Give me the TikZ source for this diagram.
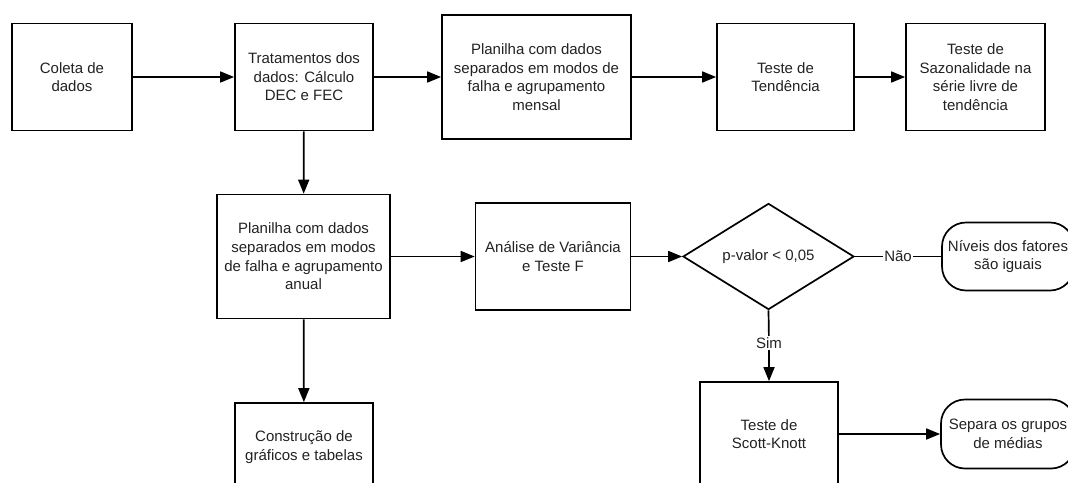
\documentclass[tikz,border=0pt]{standalone}
\usepackage{fontspec}
\setmainfont{Liberation Sans}
\usetikzlibrary{arrows.meta,shapes.geometric}
\definecolor{ink}{HTML}{222222}
\tikzset{
  base/.style={draw=black, line width=1.7pt, text=ink, align=center,
    font=\fontsize{15}{18.6}\selectfont, inner sep=2pt},
  procbox/.style={base, rectangle},
  endbox/.style={base, rectangle, rounded corners=24pt},
  choice/.style={base, diamond, inner sep=0pt},
  flow/.style={line width=1.7pt, -{Triangle[length=14pt,width=11pt]}},
  plain/.style={line width=1.7pt},
  tag/.style={fill=white, text=ink, inner sep=1.5pt, font=\fontsize{15}{18}\selectfont}
}
\begin{document}
\begin{tikzpicture}[x=1pt,y=-1pt]
\useasboundingbox (0,0) rectangle (1068,482);
\clip (0,0) rectangle (1068,482);

% top row
\node[procbox, minimum width=120pt, minimum height=107pt] (coleta) at (72,77) {Coleta de\\dados};
\node[procbox, minimum width=138pt, minimum height=107pt] (trat) at (304,77) {Tratamentos dos\\dados: Cálculo\\DEC e FEC};
\node[procbox, minimum width=189pt, minimum height=124pt] (mensal) at (536.5,77) {Planilha com dados\\separados em modos de\\falha e agrupamento\\mensal};
\node[procbox, minimum width=137pt, minimum height=107pt] (tend) at (785.5,77) {Teste de\\Tendência};
\node[procbox, minimum width=139pt, minimum height=107pt] (saz) at (975.5,77) {Teste de\\Sazonalidade na\\série livre de\\tendência};

% middle row
\node[procbox, minimum width=173pt, minimum height=124pt] (anual) at (303.5,256.5) {Planilha com dados\\separados em modos\\de falha e agrupamento\\anual};
\node[procbox, minimum width=155pt, minimum height=107pt] (anova) at (553,256.5) {Análise de Variância\\e Teste F};
\node[choice, minimum width=171pt, minimum height=103pt] (pval) at (768.5,256.5) {p-valor < 0,05};
\node[endbox, minimum width=132pt, minimum height=68pt] (niveis) at (1008,256.5) {Níveis dos fatores\\são iguais};

% bottom row
\node[procbox, minimum width=138pt, minimum height=88pt] (constr) at (304,447) {Construção de\\gráficos e tabelas};
\node[procbox, minimum width=138pt, minimum height=104pt] (scott) at (769,434) {Teste de\\Scott-Knott};
\node[endbox, minimum width=134pt, minimum height=69pt] (separa) at (1008,434) {Separa os grupos\\de médias};

\coordinate (simtag) at (769,343);

% connectors
\draw[flow] (coleta) -- (trat);
\draw[flow] (trat) -- (mensal);
\draw[flow] (mensal) -- (tend);
\draw[flow] (tend) -- (saz);
\draw[flow] (trat) -- (anual);
\draw[flow] (anual) -- (anova);
\draw[flow] (anova) -- (pval);
\draw[plain] (pval) -- node[tag] {Não} (niveis);
\draw[plain] (pval.south) -- (simtag);
\draw[flow] (simtag) -- (scott);
\node[tag] at (simtag) {Sim};
\draw[flow] (anual) -- (constr);
\draw[flow] (scott) -- (separa);
\end{tikzpicture}
\end{document}
